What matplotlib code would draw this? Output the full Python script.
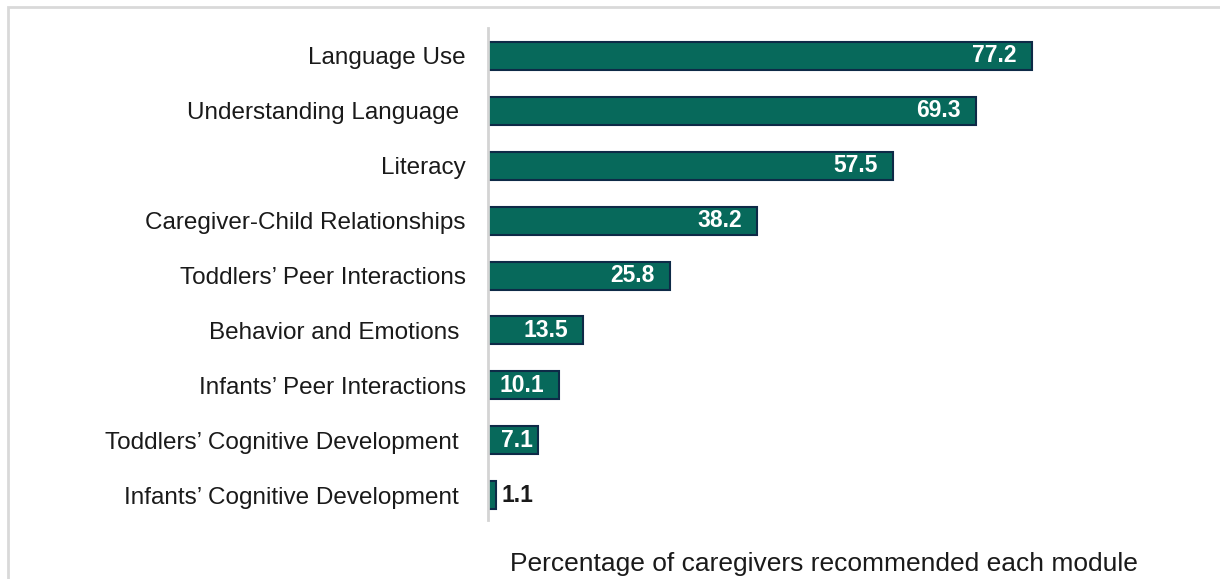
import matplotlib
matplotlib.use('Agg')
import matplotlib.pyplot as plt
from matplotlib.patches import Rectangle

# Module names (top to bottom) and share of caregivers recommending each
modules = [
    "Language Use",
    "Understanding Language ",
    "Literacy",
    "Caregiver-Child Relationships",
    "Toddlers\u2019 Peer Interactions",
    "Behavior and Emotions ",
    "Infants\u2019 Peer Interactions",
    "Toddlers\u2019 Cognitive Development ",
    "Infants\u2019 Cognitive Development ",
]
pct = [77.2, 69.3, 57.5, 38.2, 25.8, 13.5, 10.1, 7.1, 1.1]

BAR_COLOR = '#07695B'
EDGE_COLOR = '#0E2A47'
TEXT_COLOR = '#1a1a1a'

plt.rcParams['font.family'] = ['Liberation Sans', 'DejaVu Sans']

fig = plt.figure(figsize=(12.2, 5.79), dpi=100)
ax = fig.add_axes([0.4, 0.102, 0.52, 0.85])

y = range(len(modules))
ax.barh(y, pct, height=0.51, color=BAR_COLOR, edgecolor=EDGE_COLOR, linewidth=1.5)

# value labels: inside the bar end, or just outside for tiny bars
for yi, v in zip(y, pct):
    if v > 5:
        off = -11 if v > 9 else -4
        ax.annotate(f"{v:.1f}", (v, yi), xytext=(off, 0), textcoords='offset points',
                    ha='right', va='center', color='white', fontweight='bold', fontsize=16.5)
    else:
        ax.annotate(f"{v:.1f}", (v, yi), xytext=(4, 0), textcoords='offset points',
                    ha='left', va='center', color=TEXT_COLOR, fontweight='bold', fontsize=16.5)

ax.set_yticks(list(y))
ax.set_yticklabels(modules, fontsize=17.5, color=TEXT_COLOR)
ax.set_ylim(len(modules) - 0.55, -0.51)
ax.set_xlim(0, 90)
ax.set_xticks([])
ax.tick_params(axis='y', length=0, pad=16)

for side in ('top', 'right', 'bottom'):
    ax.spines[side].set_visible(False)
ax.spines['left'].set_color('#D4D4D4')
ax.spines['left'].set_linewidth(2)

ax.set_xlabel("Percentage of caregivers recommended each module", fontsize=19,
              color=TEXT_COLOR)
ax.xaxis.set_label_coords(0.53, -0.065)

# light frame around the chart area
fig.patches.append(Rectangle((8 / 1220, -0.1), 1.2, 1 - 7 / 579 + 0.1,
                             transform=fig.transFigure, fill=False,
                             edgecolor='#D9D9D9', linewidth=2))

fig.savefig('out.png', dpi=100)
